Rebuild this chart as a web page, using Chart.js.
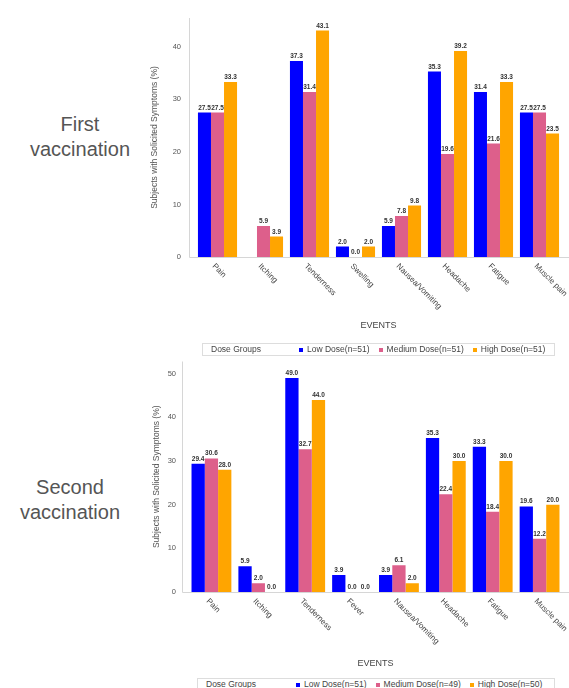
<!DOCTYPE html>
<html><head><meta charset="utf-8">
<script src="https://cdn.jsdelivr.net/npm/chart.js@4/dist/chart.umd.min.js"></script>
<style>
html,body{margin:0;padding:0;background:#fff;width:569px;height:688px;overflow:hidden;font-family:"Liberation Sans",Arial,sans-serif;}
canvas{position:absolute;left:0;}
.side{position:absolute;text-align:center;color:#555;font-size:20px;line-height:25px;}
.legend{position:absolute;height:11px;border:1px solid #ddd;font-size:8.5px;color:#444;line-height:11px;white-space:nowrap;}
.legend .ttl{position:absolute;left:8px;top:0;}
.legend .items{position:absolute;top:0;display:flex;}
.legend .it{display:flex;align-items:center;margin-right:9px;}
.legend .mk{width:4px;height:4px;margin-right:4px;}
</style></head>
<body>
<div class="side" style="left:0;top:112px;width:160px;">First<br>vaccination</div>
<div class="side" style="left:0;top:475px;width:140px;">Second<br>vaccination</div>
<canvas id="c1" width="569" height="340" style="top:0;width:569px;height:340px"></canvas>
<canvas id="c2" width="569" height="330" style="top:345px;width:569px;height:330px"></canvas>
<div class="legend" id="lg1" style="left:202px;top:343px;width:351px;"></div>
<div class="legend" id="lg2" style="left:197px;top:678px;width:356px;"></div>
<script>
// ---- data ----
const categories1 = ['Pain','Itching','Tenderness','Swelling','Nausea/Vomiting','Headache','Fatigue','Muscle pain'];
const lowDose1    = [27.5, null, 37.3, 2.0, 5.9, 35.3, 31.4, 27.5];
const mediumDose1 = [27.5, 5.9, 31.4, 0.0, 7.8, 19.6, 21.6, 27.5];
const highDose1   = [33.3, 3.9, 43.1, 2.0, 9.8, 39.2, 33.3, 23.5];
const seriesNames1 = ['Low Dose(n=51)','Medium Dose(n=51)','High Dose(n=51)'];
const yTicks1 = [0, 10, 20, 30, 40];

const categories2 = ['Pain','Itching','Tenderness','Fever','Nausea/Vomiting','Headache','Fatigue','Muscle pain'];
const lowDose2    = [29.4, 5.9, 49.0, 3.9, 3.9, 35.3, 33.3, 19.6];
const mediumDose2 = [30.6, 2.0, 32.7, 0.0, 6.1, 22.4, 18.4, 12.2];
const highDose2   = [28.0, 0.0, 44.0, 0.0, 2.0, 30.0, 30.0, 20.0];
const seriesNames2 = ['Low Dose(n=51)','Medium Dose(n=49)','High Dose(n=50)'];
const yTicks2 = [0, 10, 20, 30, 40, 50];

const legendTitle = 'Dose Groups';
const xTitle = 'EVENTS';
const yTitle = 'Subjects with Solicited Symptoms (%)';
const colors = ['#0000ff','#dd5f8b','#ffa500'];
const FONT = '"Liberation Sans", Arial, sans-serif';

function makeChart(id, cats, series, names, yTicks, cfg){
  const axisPlugin = {
    id:'axisLines',
    beforeDatasetsDraw(chart){
      const {ctx, chartArea:a} = chart;
      const x = Math.round(a.left - cfg.axisOffset) + 0.5;
      const y = Math.round(a.bottom) + 0.5;
      ctx.save();
      ctx.strokeStyle = '#d6d6d6'; ctx.lineWidth = 1;
      ctx.beginPath(); ctx.moveTo(x, a.top); ctx.lineTo(x, y); ctx.lineTo(a.right + 10, y); ctx.stroke();
      ctx.restore();
    }
  };
  const labelPlugin = {
    id:'labels',
    afterDatasetsDraw(chart){
      const ctx = chart.ctx;
      ctx.save();
      ctx.font = 'bold 6.5px ' + FONT;
      ctx.fillStyle = '#333';
      ctx.textAlign = 'center'; ctx.textBaseline = 'bottom';
      chart.data.datasets.forEach((ds, di) => {
        const meta = chart.getDatasetMeta(di);
        meta.data.forEach((el, i) => {
          const v = ds.data[i];
          if (v === null || v === undefined) return;
          ctx.fillText(v.toFixed(1), el.x, el.y - 1.5);
        });
      });
      const xs = chart.scales.x;
      ctx.font = '8px ' + FONT;
      ctx.fillStyle = '#444';
      ctx.textAlign = 'left'; ctx.textBaseline = 'middle';
      cats.forEach((c, i) => {
        const px = xs.getPixelForValue(i);
        ctx.save();
        ctx.translate(px - 4, xs.top + 8);
        ctx.rotate(Math.PI / 4);
        ctx.fillText(c, 0, 0);
        ctx.restore();
      });
      ctx.restore();
    }
  };
  return new Chart(document.getElementById(id), {
    type:'bar',
    data:{
      labels:cats,
      datasets:series.map((d,i)=>({label:names[i], data:d, backgroundColor:colors[i], borderWidth:0,
        categoryPercentage:0.85, barPercentage:1.0}))
    },
    options:{
      responsive:false, animation:false, devicePixelRatio:1,
      layout:{padding:{left:cfg.padLeft, right:cfg.padRight, top:cfg.padTop, bottom:0}},
      plugins:{legend:{display:false}, tooltip:{enabled:false}},
      scales:{
        x:{
          type:'category', offset:true,
          grid:{display:false, drawTicks:false}, border:{display:false},
          ticks:{display:false},
          title:{display:true, text:xTitle, color:'#444', font:{family:FONT, size:9}, padding:{top:0, bottom:cfg.xTitlePad}},
          afterFit(s){ s.height = cfg.xHeight; }
        },
        y:{
          min:0, max:cfg.ymax,
          afterBuildTicks(s){ s.ticks = yTicks.map(v => ({value:v})); },
          grid:{display:false, drawTicks:false}, border:{display:false},
          ticks:{color:'#555', font:{family:FONT, size:7.5}, padding:cfg.tickPad},
          title:{display:true, text:yTitle, color:'#555', font:{family:FONT, size:8.5}, padding:{top:4,bottom:4}},
          afterFit(s){ s.width = cfg.yWidth; }
        }
      }
    },
    plugins:[axisPlugin, labelPlugin]
  });
}

function makeLegend(id, names, itemsLeft){
  const el = document.getElementById(id);
  const t = document.createElement('span'); t.className='ttl'; t.textContent = legendTitle; el.appendChild(t);
  const items = document.createElement('div'); items.className='items'; items.style.left = itemsLeft + 'px';
  names.forEach((n,i)=>{
    const it = document.createElement('div'); it.className='it';
    const mk = document.createElement('span'); mk.className='mk'; mk.style.background = colors[i];
    const tx = document.createElement('span'); tx.textContent = n;
    it.appendChild(mk); it.appendChild(tx); items.appendChild(it);
  });
  el.appendChild(items);
}

makeChart('c1', categories1, [lowDose1, mediumDose1, highDose1], seriesNames1, yTicks1,
  {padLeft:146, yWidth:48.5, padRight:6.5, padTop:17, ymax:45.5, axisOffset:5.5, tickPad:13.5, xHeight:83, xTitlePad:9});
makeChart('c2', categories2, [lowDose2, mediumDose2, highDose2], seriesNames2, yTicks2,
  {padLeft:148, yWidth:40, padRight:6, padTop:8, ymax:52.8, axisOffset:6, tickPad:12, xHeight:83, xTitlePad:6.5});

makeLegend('lg1', seriesNames1, 96);
makeLegend('lg2', seriesNames2, 98);
</script>
</body></html>
